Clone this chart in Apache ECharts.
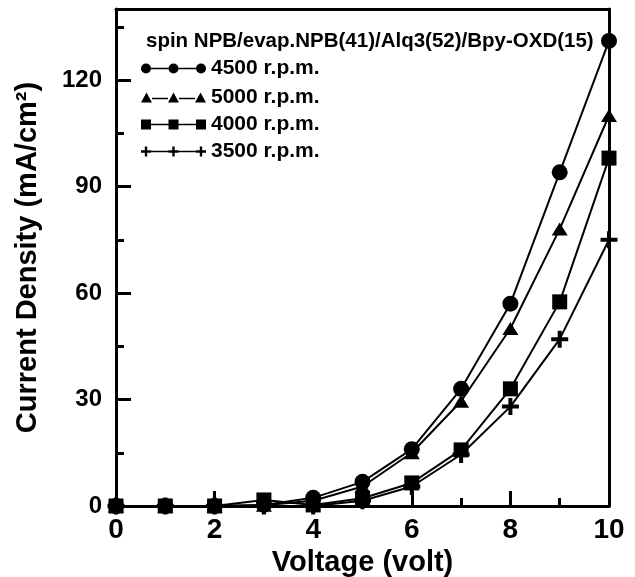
<!DOCTYPE html>
<html>
<head>
<meta charset="utf-8">
<script src="https://cdn.jsdelivr.net/npm/echarts@6/dist/echarts.min.js"></script>
<style>
html,body{margin:0;padding:0;background:#fff;}
#chart{width:635px;height:577px;}
</style>
</head>
<body>
<div id="chart"></div>
<script>
// ---- data ----
const voltage = [0, 1, 2, 3, 4, 5, 6, 7, 8, 9, 10];
const rpm4500 = [0, 0, 0, 0.3, 2.3, 6.8, 16, 33, 57, 94, 131];
const rpm5000 = [0, 0, 0, 0.2, 1.5, 5.5, 15, 29.5, 50, 78, 110];
const rpm4000 = [0, 0, 0, 1.7, 0.3, 2.2, 6.5, 15.8, 33, 57.5, 98];
const rpm3500 = [0, 0, 0, 0, 0, 1.5, 5.5, 14.5, 28, 47, 75];
const seriesNames = ['4500 r.p.m.', '5000 r.p.m.', '4000 r.p.m.', '3500 r.p.m.'];
const legendTitle = 'spin NPB/evap.NPB(41)/Alq3(52)/Bpy-OXD(15)';
const xTitle = 'Voltage (volt)';
const yTitle = 'Current Density (mA/cm\u00B2)';

const FONT = "'Liberation Sans', Arial, Helvetica, sans-serif";
const BLACK = '#000';

const plusPath = 'path://M6.5,0 H10.5 V6.5 H17 V10.5 H10.5 V17 H6.5 V10.5 H0 V6.5 H6.5 Z';

const segs = 'M10,5.3 H27.5 V6.7 H10 Z M37.5,5.3 H55 V6.7 H37.5 Z';
function circ(cx){ return 'M' + (cx-5) + ',6 A5,5 0 1,1 ' + (cx+5) + ',6 A5,5 0 1,1 ' + (cx-5) + ',6 Z '; }
const iconCircle = 'path://' + circ(5) + circ(32.5) + circ(60) + segs;
function tri(cx){ return 'M' + (cx-5.5) + ',11 L' + cx + ',1 L' + (cx+5.5) + ',11 Z '; }
const iconTri = 'path://' + tri(5.5) + tri(32.5) + tri(59.5) +
  'M11,6.3 H27 V7.7 H11 Z M38,6.3 H54 V7.7 H38 Z';
function sq(x){ return 'M' + x + ',1 H' + (x+10) + ' V11 H' + x + ' Z '; }
const iconSq = 'path://' + sq(0) + sq(27.5) + sq(55) + segs;
function plus(cx){
  const a = cx-5, b = cx-1.2, c = cx+1.2, d = cx+5;
  return 'M' + b + ',1 H' + c + ' V4.8 H' + d + ' V7.2 H' + c + ' V11 H' + b + ' V7.2 H' + a + ' V4.8 H' + b + ' Z ';
}
const iconPlus = 'path://' + plus(5) + plus(32.5) + plus(60) + segs;

const seriesValues = [rpm4500, rpm5000, rpm4000, rpm3500];
const seriesSymbols = ['circle', 'triangle', 'rect', plusPath];
const seriesSymbolSizes = [16, [16, 13], 15, 17];
const legendIcons = [iconCircle, iconTri, iconSq, iconPlus];
const legendTops = [58, 87, 114, 141];

const series = seriesNames.map(function (name, k) {
  return {
    name: name,
    type: 'line',
    xAxisIndex: 0,
    yAxisIndex: 0,
    data: voltage.map(function (v, i) { return [v, seriesValues[k][i]]; }),
    symbol: seriesSymbols[k],
    symbolSize: seriesSymbolSizes[k],
    showAllSymbol: true,
    clip: false,
    itemStyle: { color: BLACK, borderWidth: 0 },
    lineStyle: { color: BLACK, width: 2 },
    emphasis: { disabled: true },
    animation: false
  };
});

const legends = seriesNames.map(function (name, k) {
  return {
    data: [{ name: name, icon: legendIcons[k] }],
    left: 141,
    top: legendTops[k],
    padding: 0,
    itemWidth: 65,
    itemHeight: 10,
    selectedMode: false,
    itemStyle: { color: BLACK },
    textStyle: { fontFamily: FONT, fontWeight: 'bold', fontSize: 21, color: BLACK }
  };
});

const axisLineStyle = { color: BLACK, width: 3 };
const majorTick = { show: true, inside: true, length: 15, lineStyle: { color: BLACK, width: 3 } };
const minorTickAxis = { show: true, inside: true, length: 8, lineStyle: { color: BLACK, width: 3 } };

const chart = echarts.init(document.getElementById('chart'), null, { renderer: 'canvas' });
chart.setOption({
  animation: false,
  backgroundColor: '#fff',
  title: {
    text: legendTitle,
    left: 146,
    top: 31,
    padding: 0,
    textStyle: { fontFamily: FONT, fontWeight: 'bold', fontSize: 20.5, color: BLACK }
  },
  legend: legends,
  grid: { left: 116, right: 26, top: 9, bottom: 71, containLabel: false, outerBoundsMode: 'none' },
  xAxis: [
    {
      type: 'value', min: 0, max: 10, interval: 2, position: 'bottom',
      name: xTitle, nameLocation: 'middle', nameGap: 41,
      nameTextStyle: { fontFamily: FONT, fontWeight: 'bold', fontSize: 29, lineHeight: 29, color: BLACK },
      axisLine: { show: true, lineStyle: axisLineStyle },
      axisTick: majorTick,
      axisLabel: { fontFamily: FONT, fontWeight: 'bold', fontSize: 28, color: BLACK, margin: 10 },
      splitLine: { show: false }
    },
    {
      type: 'value', min: 0, max: 10, interval: 1, position: 'bottom',
      axisLine: { show: false },
      axisTick: minorTickAxis,
      axisLabel: { show: false },
      splitLine: { show: false }
    },
    {
      type: 'value', min: 0, max: 10, position: 'top',
      axisLine: { show: true, onZero: false, lineStyle: axisLineStyle },
      axisTick: { show: false },
      axisLabel: { show: false },
      splitLine: { show: false }
    }
  ],
  yAxis: [
    {
      type: 'value', min: 0, max: 140, interval: 30, position: 'left',
      name: yTitle, nameLocation: 'middle', nameGap: 74,
      nameTextStyle: { fontFamily: FONT, fontWeight: 'bold', fontSize: 29, lineHeight: 29, color: BLACK },
      axisLine: { show: true, lineStyle: axisLineStyle },
      axisTick: majorTick,
      axisLabel: { fontFamily: FONT, fontWeight: 'bold', fontSize: 24, color: BLACK, margin: 14,
        formatter: function (v) { return v % 30 === 0 ? String(v) : ''; } },
      splitLine: { show: false }
    },
    {
      type: 'value', min: 0, max: 140, interval: 15, position: 'left',
      axisLine: { show: false },
      axisTick: minorTickAxis,
      axisLabel: { show: false },
      splitLine: { show: false }
    },
    {
      type: 'value', min: 0, max: 140, position: 'right',
      axisLine: { show: true, onZero: false, lineStyle: axisLineStyle },
      axisTick: { show: false },
      axisLabel: { show: false },
      splitLine: { show: false }
    }
  ],
  series: series
});
</script>
</body>
</html>
